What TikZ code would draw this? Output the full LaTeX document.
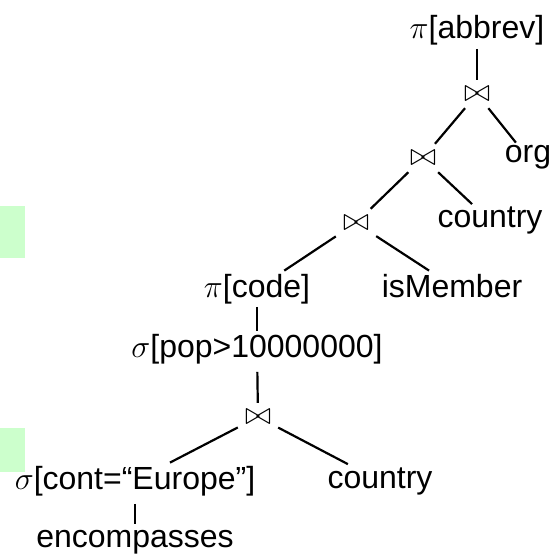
\RequirePackage{fix-cm}
\documentclass[tikz,border=0pt]{standalone}
\usepackage{fontspec}
\setmainfont{Liberation Sans}
\definecolor{slidegreen}{HTML}{CCFFCC}

\begin{document}
\begin{tikzpicture}[x = 1pt, y = -1pt, font = \fontsize{32}{38}\selectfont, inner sep = 3pt,
  joinop/.style = {minimum width = 40pt, minimum height = 28pt, inner sep = 0pt},
  rel/.style = {anchor = base}]
\useasboundingbox (0,0) rectangle (557,556);

\fill [slidegreen] (0,206) rectangle (25,258);
\fill [slidegreen] (0,428) rectangle (25,472);

\node [rel] (v1) at (477,39) {$\pi$[abbrev]};
\node [joinop] (v2) at (477,94) {$\bowtie$};
\node [joinop] (v3) at (423,158) {$\bowtie$};
\node [rel] (v4) at (528,163) {org};
\node [joinop] (v5) at (356,223) {$\bowtie$};
\node [rel] (v6) at (490,228) {country};
\node [rel] (v7) at (257,297) {$\pi$[code]};
\node [rel] (v8) at (452,297) {isMember};
\node [rel] (v9) at (257,357) {$\sigma$[pop>10000000]};
\node [joinop] (v10) at (258,417) {$\bowtie$};
\node [rel] (v11) at (135,489) {$\sigma$[cont=“Europe”]};
\node [rel] (v12) at (380,488) {country};
\node [rel] (v13) at (135,547) {encompasses};

\draw [line width = 2.2pt] (v1) edge (v2);
\draw [line width = 2.2pt] (v2) edge (v3);
\draw [line width = 2.2pt] (v2) edge (v4);
\draw [line width = 2.2pt] (v3) edge (v5);
\draw [line width = 2.2pt] (v3) edge (v6);
\draw [line width = 2.2pt] (v5) edge (v7);
\draw [line width = 2.2pt] (v5) edge (v8);
\draw [line width = 2.2pt] (v7) edge (v9);
\draw [line width = 2.2pt, shorten <= 5pt] (v9) edge (v10);
\draw [line width = 2.2pt] (v10) edge (v11);
\draw [line width = 2.2pt] (v10) edge (v12);
\draw [line width = 2.2pt, shorten <= 5pt, shorten >= 3pt] (v11) edge (v13);
\end{tikzpicture}
\end{document}
